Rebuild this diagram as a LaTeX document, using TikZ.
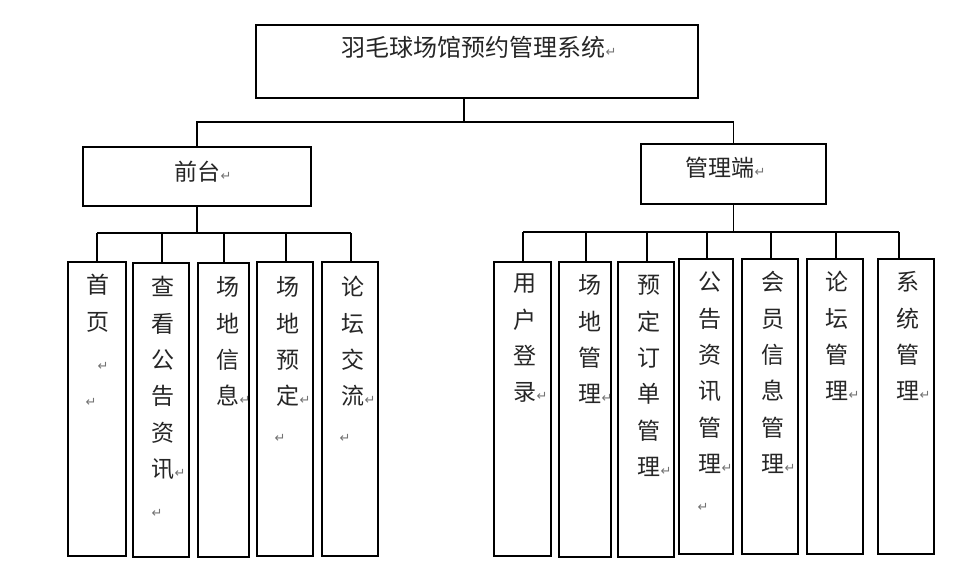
\documentclass[tikz,border=0pt]{standalone}
\usepackage{fontspec}
\newfontfamily\cjk{Noto Sans CJK SC}
\newfontfamily\markf{DejaVu Sans}
\newcommand\parmk{\raisebox{0.5pt}{\markf\fontsize{13}{13}\selectfont\color{black!55}↵}}
\newcommand\vcol[4]{%
  \foreach \c [count=\i from 0] in {#4} {\node[ch] (#1-\i) at (#2,#3+\i*36.4) {\c};}}
\tikzset{
  box/.style={draw, line width=1.2pt, inner sep=0pt, outer sep=0pt},
  ch/.style={font=\cjk\fontsize{23}{23}\selectfont, inner sep=0pt, text height=0.8em, text depth=0.08em, text=black!85},
  link/.style={line width=1.2pt},
  pmark/.style={inner sep=0pt, font=\markf\fontsize{13}{13}\selectfont, text=black!55}
}
\begin{document}
\begin{tikzpicture}[x=1pt,y=-1pt]
\useasboundingbox[fill=white] (0,0) rectangle (980,575);
% main boxes
\node[box, minimum width=442pt, minimum height=73pt] (top) at (477,61.5) {};
\node[box, minimum width=228pt, minimum height=59pt] (qt) at (197,176.5) {};
\node[box, minimum width=185pt, minimum height=60pt] (gl) at (733.5,174) {};
% left children
\node[box, minimum width=58pt, minimum height=294pt] (L1) at (97,409) {};
\node[box, minimum width=56pt, minimum height=294pt] (L2) at (161,410) {};
\node[box, minimum width=51pt, minimum height=294pt] (L3) at (223.5,410) {};
\node[box, minimum width=56pt, minimum height=294pt] (L4) at (285,409) {};
\node[box, minimum width=56pt, minimum height=294pt] (L5) at (350,409) {};
% right children
\node[box, minimum width=57pt, minimum height=294pt] (R1) at (522.5,409) {};
\node[box, minimum width=52pt, minimum height=295pt] (R2) at (585,409.5) {};
\node[box, minimum width=56pt, minimum height=295pt] (R3) at (646,409.5) {};
\node[box, minimum width=54pt, minimum height=295pt] (R4) at (706,406.5) {};
\node[box, minimum width=56pt, minimum height=295pt] (R5) at (770,406.5) {};
\node[box, minimum width=56pt, minimum height=295pt] (R6) at (835,406.5) {};
\node[box, minimum width=56pt, minimum height=295pt] (R7) at (906,406.5) {};
% connectors
\coordinate (t0) at (464,122);
\draw[link] (t0 |- top.south) -- (t0);
\draw[link] (qt.north) |- (t0) -| (gl.north);
\coordinate (bL) at (197,233);
\draw[link] (qt.south) -- (bL);
\coordinate (bR) at (733.5,232);
\draw[link] (gl.south) -- (bR);
\foreach \n/\x in {L1/97,L2/162,L3/224,L4/286,L5/351} {
  \coordinate (c\n) at (\x,233);
  \draw[link] (c\n) -- (c\n |- \n.north);
}
\draw[link] (cL1) -- (cL5);
\foreach \n/\x in {R1/523,R2/586,R3/647,R4/707,R5/771,R6/836,R7/899} {
  \coordinate (c\n) at (\x,232);
  \draw[link] (c\n) -- (c\n |- \n.north);
}
\draw[link] (cR1) -- (cR7);
% texts
\node[ch, font=\cjk\fontsize{24}{24}\selectfont] (tt) at (473.5,53) {羽毛球场馆预约管理系统\rlap{\parmk}};
\node[ch] (tq) at (197.5,177) {前台\rlap{\parmk}};
\node[ch] (tg) at (720,173) {管理端\rlap{\parmk}};
\vcol{l1}{98}{290}{首,页}
\vcol{l2}{163}{292}{查,看,公,告,资,讯\rlap{\parmk}}
\vcol{l3}{228}{292}{场,地,信,息\rlap{\parmk}}
\vcol{l4}{288}{292}{场,地,预,定\rlap{\parmk}}
\vcol{l5}{353}{292}{论,坛,交,流\rlap{\parmk}}
\vcol{r1}{525}{288}{用,户,登,录\rlap{\parmk}}
\vcol{r2}{590}{290}{场,地,管,理\rlap{\parmk}}
\vcol{r3}{649}{290}{预,定,订,单,管,理\rlap{\parmk}}
\vcol{r4}{710}{287}{公,告,资,讯,管,理\rlap{\parmk}}
\vcol{r5}{773}{287}{会,员,信,息,管,理\rlap{\parmk}}
\vcol{r6}{837}{287}{论,坛,管,理\rlap{\parmk}}
\vcol{r7}{908}{287}{系,统,管,理\rlap{\parmk}}
% empty paragraph marks
\node[pmark] (p1) at (103,366) {↵};
\node[pmark] (p2) at (91,402) {↵};
\node[pmark] (p3) at (157,513) {↵};
\node[pmark] (p4) at (280,438) {↵};
\node[pmark] (p5) at (345,438) {↵};
\node[pmark] (p6) at (703,507) {↵};
\end{tikzpicture}
\end{document}
